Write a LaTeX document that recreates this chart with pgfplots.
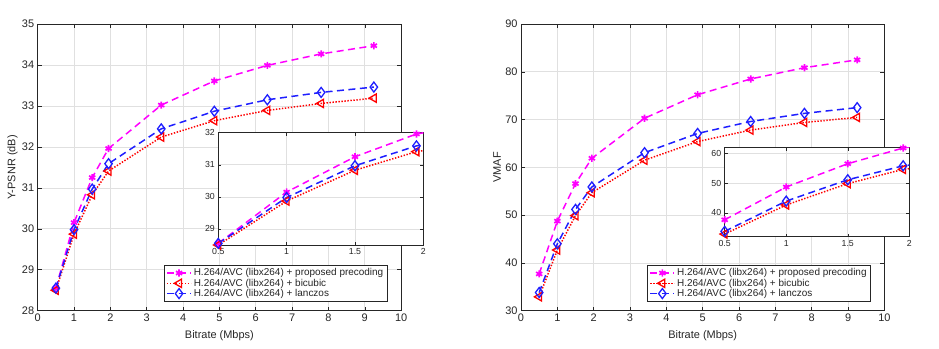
\documentclass[border=0pt]{standalone}
\usepackage{pgfplots}
\pgfplotsset{compat=1.18}
\usepackage{fontspec}
\setmainfont{Liberation Sans}
\definecolor{axgray}{gray}{0.15}
\definecolor{gridgray}{gray}{0.88}
\definecolor{mag}{rgb}{1,0,1}
\definecolor{myred}{rgb}{1,0,0}
\definecolor{myblue}{rgb}{0.12,0.12,1}

\pgfplotstableread{
x    mag    red    blue
0.5  28.55  28.50  28.55
1    30.15  29.87  29.98
1.5  31.25  30.83  30.97
1.95 31.96  31.41  31.59
3.4  33.02  32.24  32.44
4.86 33.61  32.64  32.87
6.32 33.99  32.89  33.15
7.8  34.27  33.06  33.33
9.25 34.47  33.19  33.46
}\psnr
\pgfplotstableread{
x    mag    red    blue
0.5  37.7   32.9   33.8
1    48.75  42.7   44.0
1.5  56.6   49.9   51.2
1.95 61.9   54.7   55.9
3.4  70.28  61.5   63.07
4.86 75.2   65.4   67.1
6.32 78.5   67.8   69.6
7.8  80.86  69.4   71.3
9.25 82.5   70.45  72.5
}\vmaf

\pgfplotsset{
 matlab/.style={
   scale only axis,
   axis background/.style={fill=white},
   axis line style={axgray, line width=0.7pt},
   every tick/.style={axgray, line width=0.5pt},
   tick align=inside,
   major tick length=4bp,
   xmajorgrids, ymajorgrids,
   grid style={gridgray, line width=0.6pt},
   ticklabel style={font=\fontsize{11}{12}\selectfont, text=axgray},
   label style={font=\fontsize{11}{12}\selectfont, text=axgray},
   xlabel style={yshift=-2bp},
   ylabel style={yshift=-2.5bp},
   /pgf/number format/assume math mode=true,
   legend cell align=left,
   legend image code/.code={\draw[mark repeat=2,mark phase=2] plot coordinates {(0bp,0bp) (12bp,0bp) (24bp,0bp)};},
   legend style={at={(0.348,0.03)}, anchor=south west, draw=axgray, line width=0.7pt, fill=white,
     font=\fontsize{10}{11}\selectfont, text=axgray, inner sep=1.8bp, row sep=-2.4bp},
 },
 inset/.style={
   matlab,
   ticklabel style={font=\fontsize{8.8}{9}\selectfont, text=axgray},
   major tick length=3bp,
 },
 s1/.style={mag, line width=1.5pt, dash pattern=on 7bp off 4.5bp, mark=asterisk, mark size=3.6, mark options={solid, line width=1.7pt}},
 s2/.style={myred, line width=1.5pt, dash pattern=on 1.4bp off 1.6bp, mark=triangle, mark size=4.8, mark options={solid, rotate=90, line width=1.3pt}},
 s3/.style={myblue, line width=1.5pt, dash pattern=on 7bp off 4.5bp, mark=diamond, mark size=5, mark options={solid, line width=1.3pt}},
}

\begin{document}
\begin{tikzpicture}
\useasboundingbox (0,0) rectangle (939bp,349bp);
% ---------------- left
\begin{axis}[matlab, at={(37.7bp,38.3bp)}, anchor=south west,
  width=363.4bp, height=286.7bp,
  xmin=0, xmax=10, ymin=28, ymax=35,
  xtick={0,1,...,10}, ytick={28,29,...,35},
  xlabel={Bitrate (Mbps)}, ylabel={Y-PSNR (dB)}]
\addplot[s1] table[x=x,y=mag]{\psnr};
\addlegendentry{H.264/AVC (libx264) + proposed precoding}
\addplot[s2] table[x=x,y=red]{\psnr};
\addlegendentry{H.264/AVC (libx264) + bicubic}
\addplot[s3] table[x=x,y=blue]{\psnr};
\addlegendentry{H.264/AVC (libx264) + lanczos}
\end{axis}
\begin{axis}[inset, at={(218.3bp,104bp)}, anchor=south west,
  width=205bp, height=112.3bp,
  xmin=0.5, xmax=2, ymin=28.5, ymax=32,
  xtick={0.5,1,1.5,2}, xticklabels={0.5,1,1.5,2}, ytick={29,30,31,32}]
\addplot[s1] table[x=x,y=mag]{\psnr};
\addplot[s2] table[x=x,y=red]{\psnr};
\addplot[s3] table[x=x,y=blue]{\psnr};
\end{axis}
% ---------------- right
\begin{axis}[matlab, at={(521bp,38.3bp)}, anchor=south west,
  width=363.4bp, height=286.7bp,
  xmin=0, xmax=10, ymin=30, ymax=90,
  xtick={0,1,...,10}, ytick={30,40,...,90},
  xlabel={Bitrate (Mbps)}, ylabel={VMAF}]
\addplot[s1] table[x=x,y=mag]{\vmaf};
\addlegendentry{H.264/AVC (libx264) + proposed precoding}
\addplot[s2] table[x=x,y=red]{\vmaf};
\addlegendentry{H.264/AVC (libx264) + bicubic}
\addplot[s3] table[x=x,y=blue]{\vmaf};
\addlegendentry{H.264/AVC (libx264) + lanczos}
\end{axis}
\begin{axis}[inset, at={(724.7bp,112.3bp)}, anchor=south west,
  width=184.6bp, height=89bp,
  xmin=0.5, xmax=2, ymin=32, ymax=62,
  xtick={0.5,1,1.5,2}, xticklabels={0.5,1,1.5,2}, ytick={40,50,60}]
\addplot[s1] table[x=x,y=mag]{\vmaf};
\addplot[s2] table[x=x,y=red]{\vmaf};
\addplot[s3] table[x=x,y=blue]{\vmaf};
\end{axis}
\end{tikzpicture}
\end{document}
